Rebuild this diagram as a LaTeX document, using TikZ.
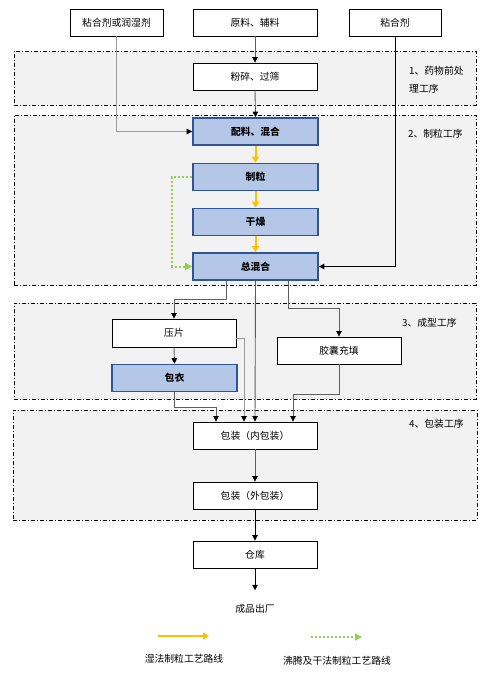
\documentclass[tikz,border=0pt]{standalone}
\usepackage{fontspec}
\setmainfont{Noto Sans CJK SC}
\usetikzlibrary{arrows.meta}
\definecolor{regfill}{HTML}{F2F2F2}
\definecolor{bluefill}{HTML}{B4C7E7}
\definecolor{bluedark}{HTML}{2F5597}
\definecolor{ylw}{HTML}{FFC000}
\definecolor{grn}{HTML}{92D050}
\definecolor{lgray}{HTML}{9A9A9A}
\definecolor{mgray}{HTML}{5E5E5E}
\begin{document}
\begin{tikzpicture}[x=1pt,y=-1pt,
  every node/.style={font=\fontsize{9.8}{12}\selectfont, inner sep=0pt},
  plainbox/.style={draw, fill=white, line width=0.9pt, minimum width=124pt, minimum height=27pt},
  bluebox/.style={draw=bluedark, fill=bluefill, line width=1.6pt, minimum width=124pt, minimum height=27pt, font=\fontsize{9.8}{12}\selectfont\bfseries},
  region/.style={draw, fill=regfill, line width=0.7pt, dash pattern=on 4pt off 2pt on 1pt off 2pt},
  reglabel/.style={anchor=west, align=left, font=\fontsize{9.8}{18}\selectfont},
  arr/.style={-{Triangle[length=5.5pt,width=5.5pt,color=black]}, line width=0.9pt},
  yarr/.style={-{Triangle[length=6pt,width=7pt]}, draw=ylw, line width=2pt},
  garr/.style={-{Triangle[length=7pt,width=7pt]}, draw=grn, line width=2pt, dash pattern=on 2pt off 2pt}
]
\useasboundingbox (0,0) rectangle (500,675);
% regions
\node[region, minimum width=462pt, minimum height=54pt] (r1) at (245,78) {};
\node[region, minimum width=462pt, minimum height=170pt] (r2) at (245,200) {};
\node[region, minimum width=462pt, minimum height=96pt] (r3) at (245,351) {};
\node[region, minimum width=464pt, minimum height=110pt] (r4) at (245,465) {};
\node[reglabel] (l1) at (409,80) {1、药物前处\\理工序};
\node[reglabel] (l2) at (408,134) {2、制粒工序};
\node[reglabel] (l3) at (402,323) {3、成型工序};
\node[reglabel] (l4) at (409,424) {4、包装工序};
% top boxes
\node[plainbox, minimum width=93pt] (tl) at (116.5,22.5) {粘合剂或润湿剂};
\node[plainbox] (tm) at (255,22.5) {原料、辅料};
\node[plainbox, minimum width=92pt] (tr) at (395,22.5) {粘合剂};
\node[plainbox] (fs) at (255,76.5) {粉碎、过筛};
% granulation
\node[bluebox, minimum width=125pt] (pl) at (255.5,131.5) {配料、混合};
\node[bluebox, minimum width=125pt] (zl) at (255.5,177) {制粒};
\node[bluebox, minimum width=125pt] (gz) at (255.5,222) {干燥};
\node[bluebox, minimum width=125pt] (zh) at (255.5,266.5) {总混合};
% forming
\node[plainbox, minimum height=28pt] (yp) at (174,333) {压片};
\node[bluebox, minimum width=125pt] (by) at (174.5,378) {包衣};
\node[plainbox] (jn) at (339,350.5) {胶囊充填};
% packing
\node[plainbox] (bn) at (255,435.5) {包装（内包装）};
\node[plainbox] (bw) at (255,495.5) {包装（外包装）};
\node[plainbox] (ck) at (255,554.5) {仓库};
\node (cp) at (255,609) {成品出厂};
% connectors
\draw[arr, draw=lgray] (tl.south) |- (pl.west);
\draw[arr, draw=mgray] (tm.south) -- (fs.north);
\draw[arr, draw=black] (tr.south) |- (zh.east);
\draw[arr, draw=mgray] (fs.south) -- (pl.north);
\draw[yarr] (pl.south) -- (zl.north);
\draw[yarr] (zl.south) -- (gz.north);
\draw[yarr] (gz.south) -- (zh.north);
\draw[garr] (zl.west) -- ++(-20,0) |- (zh.west);
\draw[arr, draw=mgray] ([xshift=-29.5pt]zh.south) -- ++(0,19) -| (yp.north);
\draw[arr, draw=mgray] (zh.south) -- (bn.north);
\draw[arr, draw=mgray] ([xshift=32.5pt]zh.south) -- ++(0,28) -| (jn.north);
\draw[arr, draw=mgray] (yp.south) -- (by.north);
\draw[arr, draw=lgray] ([yshift=-5pt]yp.east) -| ([xshift=-11pt]bn.north);
\draw[arr, draw=mgray] (by.south) -- ++(0,15) -| ([xshift=-39pt]bn.north);
\draw[arr, draw=mgray] (jn.south) -- ++(0,30) -| ([xshift=38pt]bn.north);
\draw[arr, draw=mgray] (bn.south) -- (bw.north);
\draw[arr] (bw.south) -- (ck.north);
\draw[arr] (ck.south) -- ([yshift=14pt]cp.north);
% legend
\coordinate (ya) at (158,636);
\coordinate (yb) at (209,636);
\coordinate (ga) at (311,637);
\coordinate (gb) at (362,637);
\draw[yarr] (ya) -- (yb);
\draw[garr] (ga) -- (gb);
\node (yt) at (184,659) {湿法制粒工艺路线};
\node (gt) at (337,661) {沸腾及干法制粒工艺路线};
\end{tikzpicture}
\end{document}
